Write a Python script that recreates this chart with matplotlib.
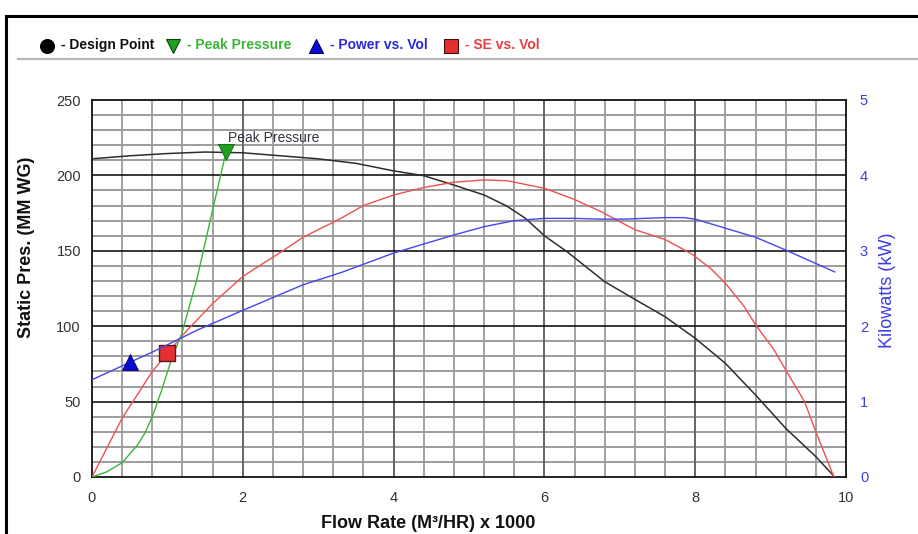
import numpy as np
import matplotlib
matplotlib.use("Agg")
import matplotlib.pyplot as plt
from matplotlib.lines import Line2D

plt.rcParams["font.family"] = ["Liberation Sans", "DejaVu Sans"]

# fan curve data (flow in m3/hr x 1000)
pres_flow = [0, 0.5, 1, 1.5, 2, 2.5, 3, 3.5, 4, 4.4, 4.8, 5.2, 5.5, 5.75, 6,
             6.3, 6.8, 7.2, 7.6, 8, 8.4, 8.8, 9.2, 9.6, 9.85]
pres_vals = [211, 213, 214.5, 215.5, 215, 213, 211, 208, 203, 199.8, 193.6, 187,
             179.7, 171.5, 160, 149.4, 129.5, 117.8, 106.3, 92, 75.4, 54.4, 32.3, 13.5, 0]

se_flow = [0, 0.4, 0.8, 1.2, 1.6, 2, 2.5, 2.8, 3.3, 3.6, 4, 4.4, 4.8, 5.2, 5.5, 6,
           6.4, 6.75, 7.2, 7.6, 7.95, 8.2, 8.4, 8.65, 8.8, 9.05, 9.2, 9.45, 9.6, 9.84]
se_vals = [0, 39, 70, 94, 115, 133, 149, 159, 171.5, 180, 187, 192, 195.5, 197, 196.5,
           191.5, 184, 176, 164, 157.5, 148, 138.5, 128.5, 113, 101, 84, 71, 50, 30, 0]

power_flow = [0, 0.85, 1.4, 2, 2.8, 3.3, 4, 4.8, 5.2, 5.6, 6, 6.4, 6.75, 7.05, 7.6,
              7.85, 8, 8.4, 8.8, 9.2, 9.85]
power_kw = [1.29, 1.68, 1.95, 2.21, 2.55, 2.71, 2.97, 3.21, 3.32, 3.40, 3.43, 3.43,
            3.42, 3.42, 3.44, 3.44, 3.42, 3.30, 3.18, 3.01, 2.72]

sys_flow = [0, 0.2, 0.4, 0.6, 0.7, 0.8, 0.92, 1.06, 1.19, 1.39, 1.59, 1.78]
sys_vals = [0, 3.5, 9.5, 21, 29, 40, 57, 79, 95, 131, 175, 216]

peak_point = (1.78, 215.5)
power_point = (0.5, 1.53)
se_point = (1.0, 82)

W, H = 918, 534


def fx(px):
    return px / W


def fy(py):
    return 1 - py / H


fig = plt.figure(figsize=(W / 100, H / 100), dpi=100)
ax = fig.add_axes([fx(92), fy(477), (846 - 92) / W, 377 / H])

# grid
ax.set_xlim(0, 10)
ax.set_ylim(0, 250)
for v in np.arange(0, 10.01, 0.4):
    if abs(v / 2 - round(v / 2)) > 1e-6:
        ax.axvline(v, color="#a2a2a2", lw=1.4, zorder=0)
for v in [2, 4, 6, 8]:
    ax.axvline(v, color="#646464", lw=1.4, zorder=0.5)
for v in range(10, 250, 10):
    if v % 50:
        ax.axhline(v, color="#9c9c9c", lw=1.4, zorder=0)
for v in [50, 100, 150, 200]:
    ax.axhline(v, color="#151515", lw=1.2, zorder=0.5)

ax.plot(pres_flow, pres_vals, color="#2e2e2e", lw=1.1, zorder=3)
ax.plot(se_flow, se_vals, color="#f05050", lw=1.0, zorder=3)
ax.plot(sys_flow, sys_vals, color="#3cb43c", lw=1.0, zorder=3)
ax.plot(*se_point, marker="s", ms=11, color="#e43030", mec="#5a1a1a", mew=1.0, zorder=6)
ax.plot(*peak_point, marker="v", ms=11, color="#1fa01f", mec="#156015", mew=0.6, zorder=6)
ax.text(1.81, 224.5, "Peak Pressure", fontsize=10, color="#333344", va="center", ha="left")

ax.set_xticks([0, 2, 4, 6, 8, 10])
ax.set_yticks([0, 50, 100, 150, 200, 250])
ax.tick_params(length=0, labelsize=10.5, colors="#333333", pad=8)
ax.tick_params(axis="x", pad=10)
for s in ax.spines.values():
    s.set_color("#111111")
    s.set_linewidth(1.3)

ax2 = ax.twinx()
ax2.set_ylim(0, 5)
ax2.plot(power_flow, power_kw, color="#4646ee", lw=1.0, zorder=3)
ax2.plot(*power_point, marker="^", ms=11, color="#0a0ad0", mec="#000060", mew=0.6, zorder=6)
ax2.set_yticks([0, 1, 2, 3, 4, 5])
ax2.tick_params(length=0, labelsize=10.5, colors="#3c3ce6", pad=10)
for s in ax2.spines.values():
    s.set_visible(False)

fig.text(fx(27), fy(247), "Static Pres. (MM WG)", rotation=90, fontsize=13,
         fontweight="bold", ha="center", va="center", color="#111111")
fig.text(fx(888), fy(290), "Kilowatts (kW)", rotation=90, fontsize=13,
         ha="center", va="center", color="#3c3ce6")
fig.text(fx(428), fy(532), "Flow Rate (M³/HR) x 1000", fontsize=13,
         fontweight="bold", ha="center", va="bottom", color="#111111")

# outer frame and legend separator
fig.add_artist(Line2D([fx(6), 1], [fy(16), fy(16)], color="black", lw=2.2))
fig.add_artist(Line2D([fx(6), fx(6)], [fy(16), 0], color="black", lw=2.2))
fig.add_artist(Line2D([fx(18), 1], [fy(59), fy(59)], color="#b8b8b8", lw=1.6))

# legend row
leg_font = ["Liberation Sans Narrow", "Liberation Sans"]
items = [
    (47, "o", "#000000", "#000000", "- Design Point", "#111111"),
    (173, "v", "#1fa01f", "#104010", "- Peak Pressure", "#3cb43c"),
    (316, "^", "#0a0ad0", "#000060", "- Power vs. Vol", "#2a2ad8"),
    (451, "s", "#e43030", "#3a1010", "- SE vs. Vol", "#e84040"),
]
for mx, mk, fc, ec, label, tc in items:
    fig.add_artist(Line2D([fx(mx)], [fy(45.5)], marker=mk, ms=10, color=fc, mec=ec,
                          mew=0.8, linestyle="none"))
    fig.text(fx(mx + 14), fy(45), label, fontsize=10, fontweight="bold", color=tc,
             ha="left", va="center", family=leg_font)

fig.savefig("out.png", dpi=100)
